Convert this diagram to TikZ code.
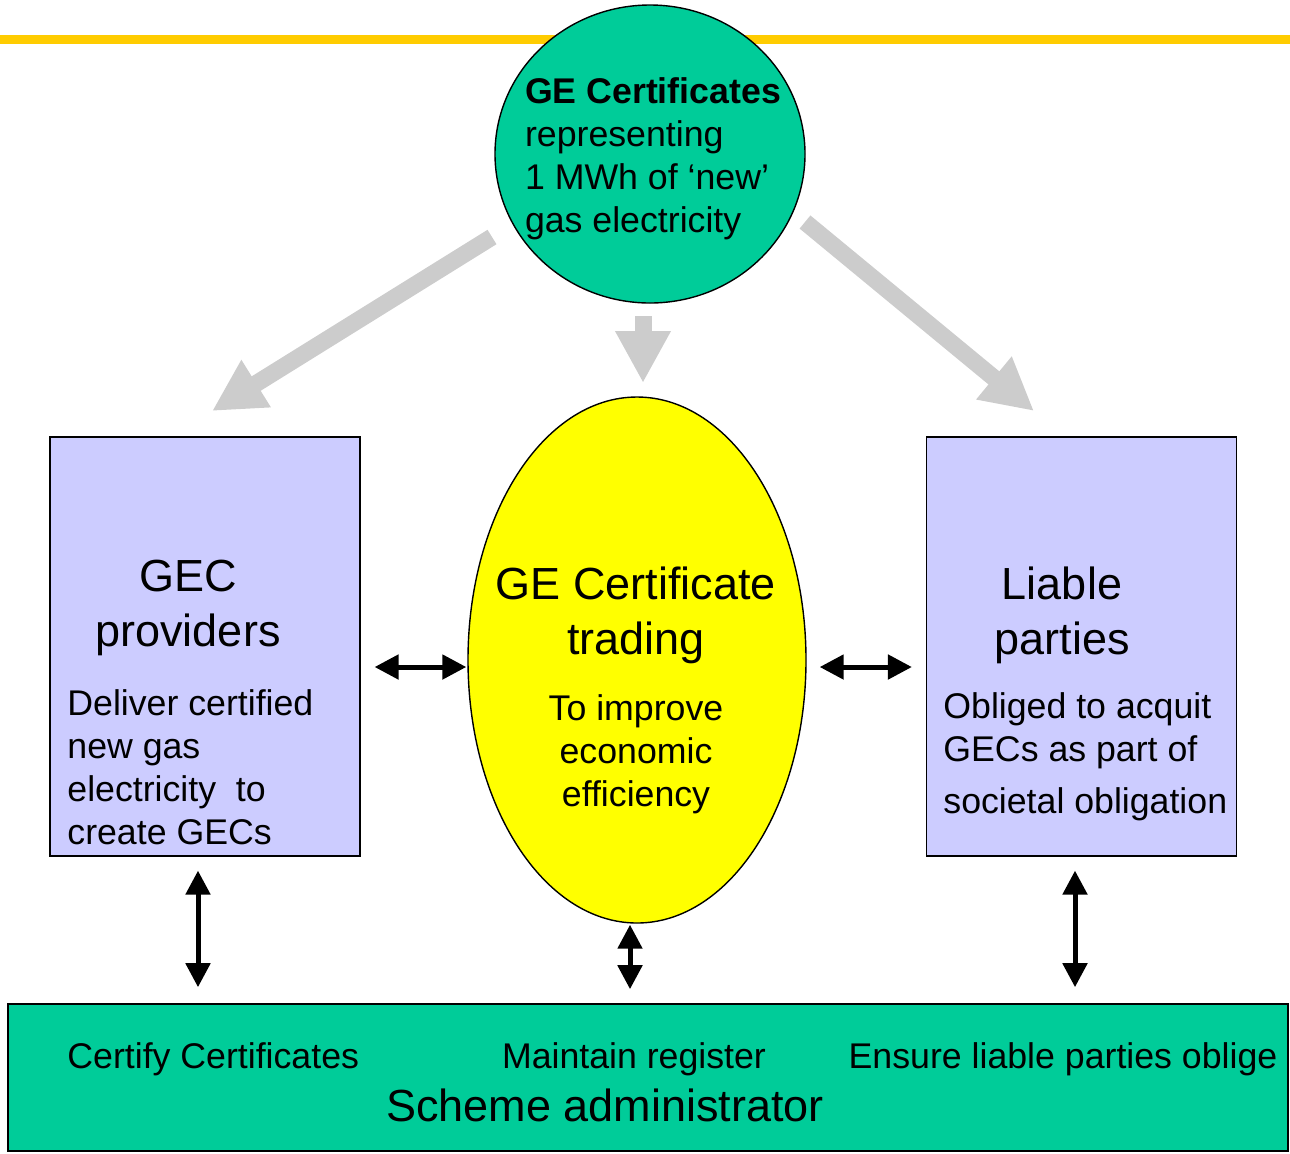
\documentclass[tikz,border=0pt]{standalone}
\usepackage{fontspec}
\setmainfont{Liberation Sans}
\usetikzlibrary{arrows.meta,positioning,calc,shapes.geometric}
\definecolor{gecteal}{HTML}{00CC99}
\definecolor{gecgold}{HTML}{FFCC00}
\definecolor{geclav}{HTML}{CCCCFF}
\definecolor{gecyel}{HTML}{FFFF00}
\definecolor{gecgrey}{HTML}{CCCCCC}
\newcommand{\bigfont}{\fontsize{22.5}{27.5}\selectfont}
\newcommand{\smfont}{\fontsize{17.85}{21.5}\selectfont}

\begin{document}
\begin{tikzpicture}[x=0.5pt,y=-0.5pt,
  bx/.style={draw,line width=0.6pt,fill=geclav,minimum width=155pt,minimum height=209.5pt,inner sep=0pt},
  hd/.style={font=\bigfont,align=center,inner sep=0pt},
  tx/.style={font=\smfont,align=left,inner sep=0pt},
  dbl/.style={{Triangle[length=12pt,width=12pt]}-{Triangle[length=12pt,width=12pt]},line width=2.5pt},
  fat/.style={-{Triangle[length=26pt,width=26pt]},line width=8.5pt,draw=gecgrey}]
\useasboundingbox (0,0) rectangle (1290,1153);
\draw[gecgold,line width=4.5pt] (0,39.5) -- (1290,39.5);
\node[ellipse,draw,line width=0.7pt,fill=gecteal,minimum width=155pt,minimum height=149pt,
  inner sep=0pt] (cert) at (650,154) {};
\node[bx] (prov) at (205,646.5) {};
\node[bx] (liab) at (1081.5,646.5) {};
\node[ellipse,draw,line width=0.7pt,fill=gecyel,minimum width=169pt,minimum height=263pt,
  inner sep=0pt] (trade) at (637,660) {};
\node[draw,line width=0.8pt,fill=gecteal,minimum width=640pt,minimum height=73.5pt,
  inner sep=0pt] (admin) at (648,1077.5) {};
% texts
\node[tx] (certtx) at ($(cert)+(3,5)$)
  {\textbf{GE Certificates}\\representing\\1 MWh of ‘new’\\gas electricity};
\node[hd,anchor=north] (provhd) at (188,560) {GEC\\providers};
\node[tx,anchor=north west] (provtx) at (67,689) {Deliver certified\\new gas\\electricity\ \ to\\create GECs};
\node[hd,anchor=north] (tradehd) at (636,566) {GE Certificate\\trading};
\node[tx,align=center,below=15.25pt of tradehd] (tradetx) {To improve\\economic\\efficiency};
\node[hd,anchor=north] (liabhd) at (1062,566) {Liable\\parties};
\node[tx,anchor=north west] (liabtx) at (943,692) {Obliged to acquit\\GECs as part of\\[4.5pt]societal obligation};
\node[tx,anchor=base west] (certify) at (67,1068) {Certify Certificates};
\node[tx,anchor=base] (reg) at (634,1068) {Maintain register};
\node[tx,anchor=base] (oblige) at (1063,1068) {Ensure liable parties oblige};
\node[hd,anchor=base] (adminhd) at (605,1121) {Scheme administrator};
% grey arrows
\coordinate (l0) at (492,237);
\coordinate (l1) at (212,411);
\coordinate (m0) at (643,316);
\coordinate (m1) at (643,383);
\coordinate (r0) at (805,222);
\coordinate (r1) at (1034,411);
\draw[fat] (l0) -- (l1);
\draw[fat] (m0) -- (m1);
\draw[fat] (r0) -- (r1);
% black arrows
\draw[dbl,shorten <=7pt,shorten >=0.5pt] (prov.east |- 0,667) -- (trade.west |- 0,667);
\draw[dbl,shorten <=6.5pt,shorten >=7pt] (trade.east |- 0,667) -- (liab.west |- 0,667);
\draw[dbl,shorten <=7pt,shorten >=8pt] (prov.south -| 198,0) -- (admin.north -| 198,0);
\draw[dbl,shorten <=0.5pt,shorten >=7pt] (trade.south -| 630,0) -- (admin.north -| 630,0);
\draw[dbl,shorten <=7pt,shorten >=8pt] (liab.south -| 1075,0) -- (admin.north -| 1075,0);
\end{tikzpicture}
\end{document}
